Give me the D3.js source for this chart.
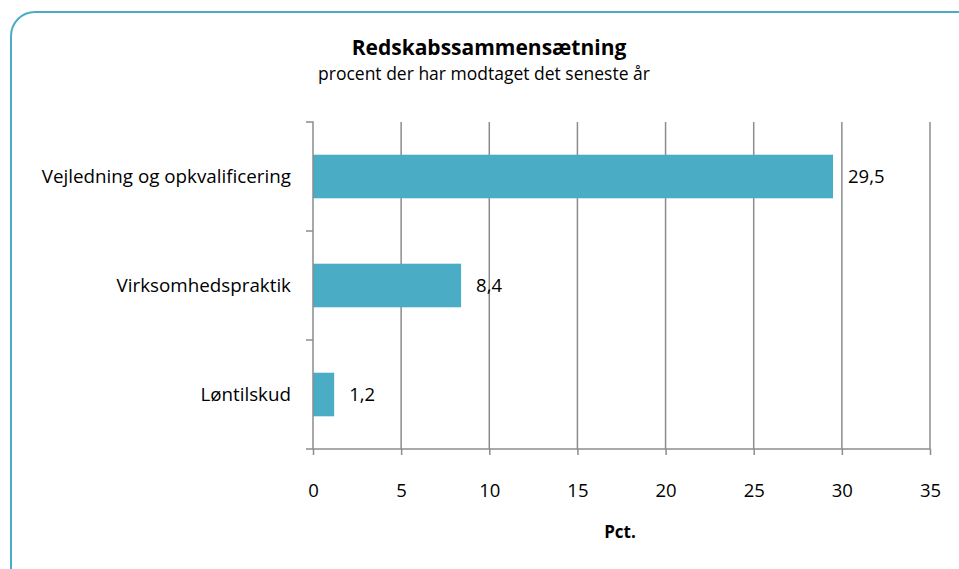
<!DOCTYPE html>
<html>
<head>
<meta charset="utf-8">
<script src="https://cdn.jsdelivr.net/npm/d3@7"></script>
<style>
  body { margin: 0; background: #fff; }
  text { font-family: "Open Sans", sans-serif; fill: #000; }
</style>
</head>
<body>
<svg width="959" height="569"></svg>
<script>
// chart data
const categories = ["Vejledning og opkvalificering", "Virksomhedspraktik", "Løntilskud"];
const values = [29.5, 8.4, 1.2];
const valueLabels = ["29,5", "8,4", "1,2"];
const xTicks = [0, 5, 10, 15, 20, 25, 30, 35];

const svg = d3.select("svg");
const padding = { top: 122, right: 29, bottom: 120, left: 313 };
const axisY = 449;
const font = "'Open Sans', sans-serif";

// outer frame with rounded corners
svg.append("rect")
    .attr("x", 11).attr("y", 12)
    .attr("width", 980).attr("height", 600)
    .attr("rx", 24)
    .attr("fill", "none")
    .attr("stroke", "#4bacc6")
    .attr("stroke-width", 2);

// title
svg.append("text")
    .attr("x", 489).attr("y", 55)
    .attr("text-anchor", "middle")
    .attr("font-size", 21).attr("font-weight", "bold")
    .text("Redskabssammensætning");
svg.append("text")
    .attr("x", 484).attr("y", 80)
    .attr("text-anchor", "middle")
    .attr("font-size", 17.5)
    .text("procent der har modtaget det seneste år");

const x = d3.scaleLinear()
    .domain([0, 35])
    .range([padding.left, 930]);

const y = d3.scaleBand()
    .domain(categories)
    .range([padding.top, axisY]);

// vertical gridlines
svg.append("g")
    .selectAll("line")
    .data(xTicks.slice(1))
    .join("line")
    .attr("x1", d => x(d)).attr("x2", d => x(d))
    .attr("y1", padding.top).attr("y2", axisY)
    .attr("stroke", "#8c8c8c")
    .attr("stroke-width", 1.5);

// bars
const barH = y.bandwidth() * 0.4;
svg.append("g")
    .selectAll("rect")
    .data(values)
    .join("rect")
    .attr("x", x(0))
    .attr("y", (d, i) => y(categories[i]) + (y.bandwidth() - barH) / 2)
    .attr("width", d => x(d) - x(0))
    .attr("height", barH)
    .attr("fill", "#4bacc6");

// value labels
svg.append("g")
    .selectAll("text")
    .data(values)
    .join("text")
    .attr("x", d => x(d) + 15)
    .attr("y", (d, i) => y(categories[i]) + y.bandwidth() / 2)
    .attr("dy", "0.35em")
    .attr("font-size", 18.5)
    .text((d, i) => valueLabels[i]);

// x axis
const xAxis = svg.append("g")
    .attr("transform", `translate(0, ${axisY})`)
    .call(d3.axisBottom(x).tickValues(xTicks).tickSize(6).tickPadding(29).tickFormat(d3.format("d")));
xAxis.select(".domain").attr("stroke", "#8c8c8c").attr("stroke-width", 1.5)
    .attr("d", `M${x(0) - 7},0H${x(35)}`);
xAxis.selectAll(".tick line").attr("stroke", "#8c8c8c").attr("stroke-width", 1.5);
xAxis.selectAll(".tick text").attr("font-size", 18.5).attr("font-family", font).attr("fill", "#000");

// y axis
const yAxis = svg.append("g")
    .attr("transform", `translate(${x(0)}, 0)`)
    .call(d3.axisLeft(y).tickSize(0).tickPadding(22));
yAxis.select(".domain").attr("stroke", "#8c8c8c").attr("stroke-width", 1.5)
    .attr("d", `M-7,${padding.top}H0V${axisY}`);
yAxis.selectAll(".tick text").attr("font-size", 18.8).attr("font-family", font).attr("fill", "#000");

// band boundary ticks on the y axis
svg.append("g")
    .selectAll("line")
    .data(categories.slice(1))
    .join("line")
    .attr("x1", x(0) - 7).attr("x2", x(0))
    .attr("y1", d => y(d)).attr("y2", d => y(d))
    .attr("stroke", "#8c8c8c")
    .attr("stroke-width", 1.5);

// axis title
svg.append("text")
    .attr("x", 620).attr("y", 538)
    .attr("text-anchor", "middle")
    .attr("font-size", 17).attr("font-weight", "bold")
    .text("Pct.");
</script>
</body>
</html>
